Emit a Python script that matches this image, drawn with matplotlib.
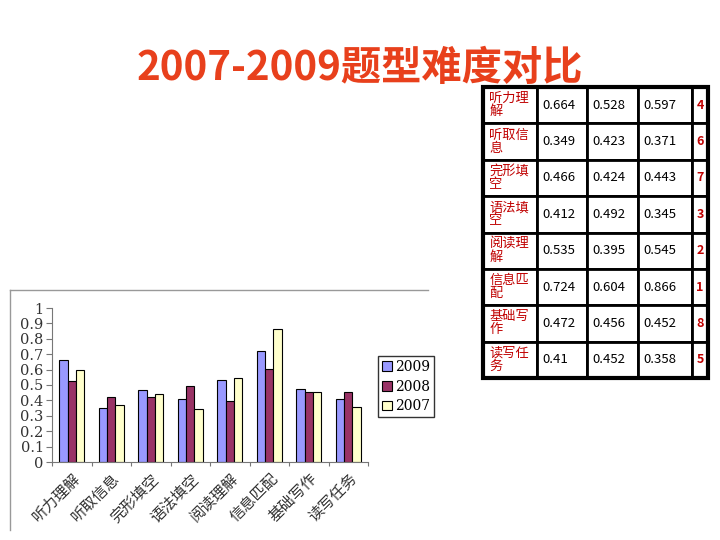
import numpy as np
import matplotlib.pyplot as plt
from matplotlib.lines import Line2D

plt.rcParams['font.family'] = ['Noto Sans CJK SC', 'DejaVu Sans']

# data
categories = ['听力理解', '听取信息', '完形填空', '语法填空', '阅读理解', '信息匹配', '基础写作', '读写任务']
cat_wrapped = ['听力理\n解', '听取信\n息', '完形填\n空', '语法填\n空', '阅读理\n解', '信息匹\n配', '基础写\n作', '读写任\n务']
v2009 = [0.664, 0.349, 0.466, 0.412, 0.535, 0.724, 0.472, 0.41]
v2008 = [0.528, 0.423, 0.424, 0.492, 0.395, 0.604, 0.456, 0.452]
v2007 = [0.597, 0.371, 0.443, 0.345, 0.545, 0.866, 0.452, 0.358]
v_str = [['0.664', '0.528', '0.597'], ['0.349', '0.423', '0.371'], ['0.466', '0.424', '0.443'],
         ['0.412', '0.492', '0.345'], ['0.535', '0.395', '0.545'], ['0.724', '0.604', '0.866'],
         ['0.472', '0.456', '0.452'], ['0.41', '0.452', '0.358']]
rank = ['4', '6', '7', '3', '2', '1', '8', '5']
years = ['2009', '2008', '2007']
colors = ['#9999FF', '#993366', '#FFFFCC']

W, H = 720, 540
fig = plt.figure(figsize=(7.2, 5.4), dpi=100)

def fx(px):
    return px / W

def fy(py):
    return 1 - py / H

# title
fig.text(fx(360), fy(68), '2007-2009题型难度对比', color='#E8401C', fontsize=29,
         fontweight='bold', ha='center', va='center')

# frame of the chart picture
fig.add_artist(Line2D([fx(10), fx(428)], [fy(290), fy(290)], color='#999999', lw=1))
fig.add_artist(Line2D([fx(10), fx(10)], [fy(290), fy(530)], color='#999999', lw=1))

# bar chart
ax = fig.add_axes([fx(52), fy(462), fx(368 - 52), fy(308) - fy(462)])
x = np.arange(len(categories))
bw = 0.21
series = [v2009, v2008, v2007]
handles = []
for i, (vals, c, yr) in enumerate(zip(series, colors, years)):
    b = ax.bar(x + (i - 1) * bw, vals, bw, color=c, edgecolor='black', linewidth=0.8, label=yr)
    handles.append(b)
ax.set_xlim(-0.5, len(categories) - 0.5)
ax.set_ylim(0, 1)
ax.set_yticks(np.arange(0, 1.01, 0.1))
ax.set_yticklabels(['0'] + ['0.%d' % k for k in range(1, 10)] + ['1'],
                   family=['DejaVu Serif'], fontsize=10.5, color='#333333')
ax.set_xticks(np.arange(-0.5, len(categories), 1), minor=False)
ax.set_xticklabels([])
ax.set_xticks(x, minor=True)
ax.set_xticklabels(categories, minor=True, rotation=45, ha='right', rotation_mode='anchor',
                   fontsize=11, color='#333333')
ax.tick_params(axis='x', which='minor', length=0, pad=6)
ax.tick_params(axis='x', which='major', length=3, direction='out', color='#777777')
ax.tick_params(axis='y', length=4, direction='out', color='#777777', pad=2)
for s in ['top', 'right']:
    ax.spines[s].set_visible(False)
ax.spines['left'].set_color('#777777')
ax.spines['bottom'].set_color('#777777')

fig.legend(handles=handles, labels=years, loc='upper left',
           bbox_to_anchor=(fx(378), fy(356)), frameon=True, fancybox=False,
           edgecolor='black', handlelength=0.7, handleheight=0.7,
           handletextpad=0.2, borderpad=0.3, labelspacing=0.4, borderaxespad=0,
           prop={'family': 'DejaVu Serif', 'size': 10})

# table
tax = fig.add_axes([fx(483), fy(378), fx(708 - 483), fy(87) - fy(378)])
tax.axis('off')
cells = [[c] + v + [r] for c, v, r in zip(cat_wrapped, v_str, rank)]
col_w = np.array([54, 50, 51, 54, 16], dtype=float)
col_w = col_w / col_w.sum()
tbl = tax.table(cellText=cells, colWidths=col_w, bbox=[0, 0, 1, 1], cellLoc='left')
tbl.auto_set_font_size(False)
for (r, c), cell in tbl.get_celld().items():
    cell.set_linewidth(2)
    cell.set_edgecolor('black')
    t = cell.get_text()
    if c == 0:
        t.set_color('#C00000')
        t.set_fontsize(9.5)
        cell.PAD = 0.12
        t.set_linespacing(1.0)
    elif c == 4:
        t.set_color('#C00000')
        t.set_fontweight('bold')
        t.set_fontsize(9)
        t.set_ha('center')
        cell._loc = 'center'
    else:
        t.set_fontsize(9.5)
        cell.PAD = 0.1
tax.add_patch(plt.Rectangle((0, 0), 1, 1, transform=tax.transAxes, fill=False,
                            edgecolor='black', lw=3, clip_on=False))

fig.savefig('out.png', dpi=100)
